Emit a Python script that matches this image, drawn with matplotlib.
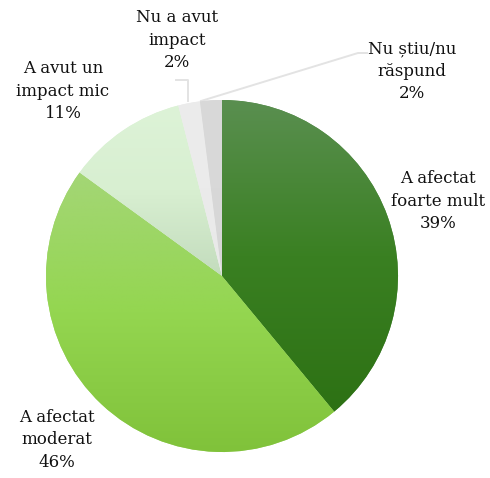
import numpy as np
import matplotlib
matplotlib.use("Agg")
import matplotlib.pyplot as plt
from matplotlib.colors import LinearSegmentedColormap

# ---- data ----
categories = ["A afectat\nfoarte mult", "A afectat\nmoderat", "A avut un\nimpact mic",
              "Nu a avut\nimpact", "Nu știu/nu\nrăspund"]
values = [39, 46, 11, 2, 2]
pct_labels = ["39%", "46%", "11%", "2%", "2%"]
top_colors = ["#5a8f50", "#a4d676", "#ddf3d7", "#ececec", "#d9d9d9"]
mid_colors = ["#3a8022", "#94d650", "#d8efd1", "#ebebeb", "#d8d8d8"]
bottom_colors = ["#2d7114", "#80c23a", "#c3dcbd", "#e9e9e9", "#d6d6d6"]

W, H = 490, 478
fig = plt.figure(figsize=(W / 100, H / 100), dpi=100)
ax = fig.add_axes([0, 0, 1, 1])

cx, cy_img, R = 222, 276, 176
cy = H - cy_img

wedges, _ = ax.pie(values, center=(cx, cy), radius=R, startangle=90,
                   counterclock=False, colors=top_colors,
                   wedgeprops=dict(linewidth=0))

for w, ct, cm, cb in zip(wedges, top_colors, mid_colors, bottom_colors):
    verts = w.get_path().vertices
    x0, x1 = verts[:, 0].min(), verts[:, 0].max()
    y0, y1 = verts[:, 1].min(), verts[:, 1].max()
    cmap = LinearSegmentedColormap.from_list("g", [cb, cm, ct])
    grad = np.linspace(0, 1, 256).reshape(-1, 1)
    im = ax.imshow(grad, cmap=cmap, origin="lower", extent=(x0, x1, y0, y1),
                   aspect="auto", zorder=2, interpolation="bilinear")
    im.set_clip_path(w)

ax.set_xlim(0, W)
ax.set_ylim(0, H)
ax.set_aspect("equal")
ax.axis("off")

# leader lines (image coords)
line_col = "#e3e3e3"
ax.plot([188, 188, 176], [H - 101, H - 80, H - 80], color=line_col, lw=1.4, zorder=1)
ax.plot([201, 358, 367], [H - 101, H - 53, H - 53], color=line_col, lw=1.4, zorder=1)

label_pos = [(438, 201), (57, 440), (63, 91), (177, 40), (412, 71)]
for cat, p, (lx, ly) in zip(categories, pct_labels, label_pos):
    ax.text(lx, H - ly, cat + "\n" + p, ha="center", va="center",
            fontsize=12, family="DejaVu Serif", color="#111111",
            linespacing=1.4)

fig.savefig("out.png", dpi=100)
